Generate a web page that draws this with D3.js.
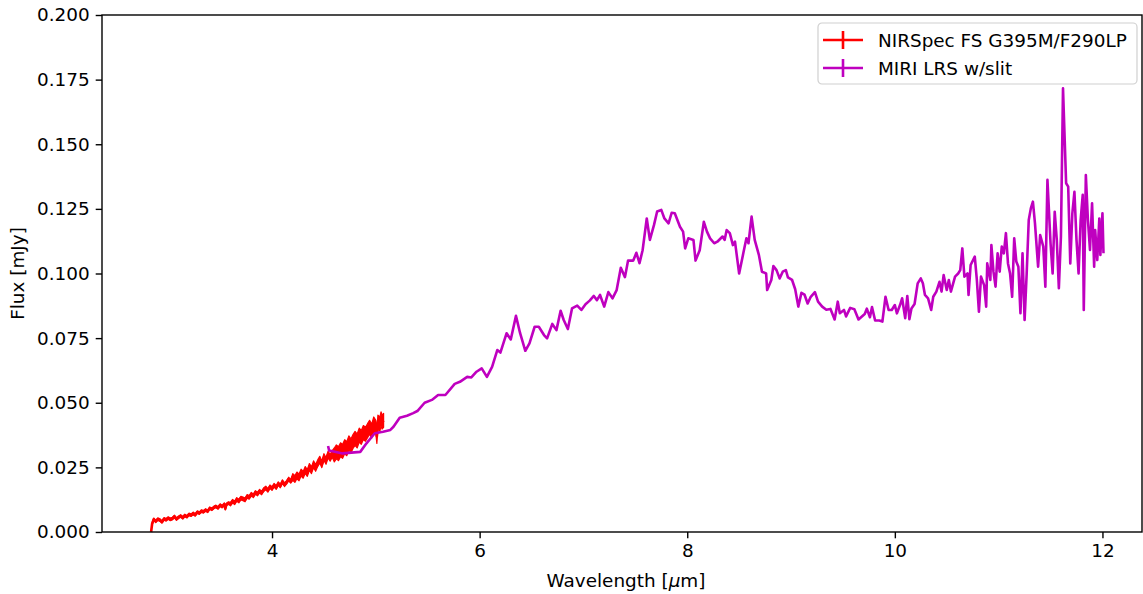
<!DOCTYPE html>
<html>
<head>
<meta charset="utf-8">
<script src="https://cdn.jsdelivr.net/npm/d3@7"></script>
<style>
  body { margin: 0; background: #fff; }
  svg text { font-family: "DejaVu Sans", sans-serif; fill: #000; }
</style>
</head>
<body>
<div id="chart"></div>
<script>
(function() {
// NIRSpec FS G395M/F290LP: [wavelength um, flux mJy]
var nirspec = [
  [2.835, 0.0000], [2.845, 0.0032], [2.86, 0.0049], [2.88, 0.0041], [2.90, 0.0050],
  [2.92, 0.0046], [2.94, 0.0039], [2.96, 0.0051], [2.98, 0.0047], [3.00, 0.0054],
  [3.02, 0.0049], [3.04, 0.0052], [3.06, 0.0060], [3.08, 0.0050], [3.10, 0.0057],
  [3.12, 0.0062], [3.14, 0.0055], [3.16, 0.0064], [3.18, 0.0059], [3.20, 0.0068],
  [3.22, 0.0065], [3.24, 0.0072], [3.26, 0.0066], [3.28, 0.0077], [3.30, 0.0073],
  [3.32, 0.0081], [3.34, 0.0078], [3.36, 0.0085], [3.38, 0.0080], [3.40, 0.0092],
  [3.42, 0.0088], [3.44, 0.0095], [3.46, 0.0099], [3.48, 0.0093], [3.50, 0.0104],
  [3.52, 0.0098], [3.54, 0.0108], [3.55, 0.0090], [3.56, 0.0106], [3.58, 0.0112],
  [3.60, 0.0108], [3.62, 0.0119], [3.64, 0.0113], [3.66, 0.0126], [3.68, 0.0120],
  [3.70, 0.0131], [3.72, 0.0128], [3.74, 0.0124], [3.76, 0.0138], [3.78, 0.0134],
  [3.80, 0.0146], [3.82, 0.0140], [3.84, 0.0153], [3.86, 0.0147], [3.88, 0.0158],
  [3.90, 0.0151], [3.92, 0.0164], [3.94, 0.0170], [3.96, 0.0161], [3.98, 0.0175],
  [4.00, 0.0168], [4.02, 0.0181], [4.04, 0.0172], [4.06, 0.0187], [4.08, 0.0178],
  [4.10, 0.0195], [4.12, 0.0183], [4.14, 0.0192], [4.16, 0.0205], [4.18, 0.0196],
  [4.20, 0.0213], [4.22, 0.0205], [4.24, 0.0219], [4.26, 0.0211], [4.28, 0.0230],
  [4.30, 0.0221], [4.32, 0.0240], [4.34, 0.0228], [4.36, 0.0252], [4.38, 0.0239],
  [4.40, 0.0262], [4.42, 0.0248], [4.44, 0.0266], [4.46, 0.0280], [4.48, 0.0262],
  [4.50, 0.0290], [4.52, 0.0275], [4.54, 0.0300], [4.56, 0.0287], [4.58, 0.0302],
  [4.60, 0.0298], [4.62, 0.0310], [4.64, 0.0303], [4.66, 0.0318], [4.68, 0.0312],
  [4.70, 0.0330], [4.72, 0.0322], [4.74, 0.0345], [4.76, 0.0333], [4.78, 0.0350],
  [4.80, 0.0362], [4.82, 0.0352], [4.84, 0.0375], [4.86, 0.0366], [4.88, 0.0385],
  [4.90, 0.0378], [4.92, 0.0392], [4.94, 0.0405], [4.96, 0.0390], [4.98, 0.0418],
  [5.00, 0.0405], [5.01, 0.0370], [5.02, 0.0425], [5.04, 0.0418], [5.05, 0.0438],
  [5.06, 0.0425], [5.075, 0.0432]
];

// NIRSpec flux uncertainty by wavelength range: [from um, sigma mJy]
var nirspecErr = [[2.80, 0.0005], [3.60, 0.0007], [4.20, 0.0013], [4.60, 0.0027]];

// MIRI LRS w/slit: [wavelength um, flux mJy]
var miri = [
  [4.54, 0.0333], [4.55, 0.0315], [4.68, 0.0304], [4.85, 0.0310], [4.91, 0.0343],
  [4.99, 0.0382], [5.07, 0.0388], [5.14, 0.0395], [5.17, 0.0407], [5.23, 0.0442],
  [5.30, 0.0450], [5.36, 0.0460], [5.40, 0.0468], [5.47, 0.0500], [5.54, 0.0511],
  [5.60, 0.0530], [5.67, 0.0530], [5.76, 0.0573], [5.81, 0.0581], [5.88, 0.0600],
  [5.92, 0.0598], [5.97, 0.0620], [6.02, 0.0633], [6.07, 0.0600], [6.12, 0.0639],
  [6.17, 0.0704], [6.20, 0.0694], [6.26, 0.0769], [6.30, 0.0745], [6.35, 0.0836],
  [6.39, 0.0769], [6.44, 0.0701], [6.48, 0.0730], [6.53, 0.0794], [6.57, 0.0794],
  [6.62, 0.0762], [6.65, 0.0749], [6.70, 0.0805], [6.74, 0.0781], [6.78, 0.0856],
  [6.81, 0.0820], [6.85, 0.0785], [6.89, 0.0865], [6.94, 0.0876], [6.98, 0.0859],
  [7.02, 0.0881], [7.06, 0.0895], [7.10, 0.0913], [7.13, 0.0897], [7.16, 0.0917],
  [7.20, 0.0872], [7.24, 0.0928], [7.28, 0.0904], [7.32, 0.0936], [7.36, 0.1022],
  [7.40, 0.0986], [7.43, 0.1050], [7.48, 0.1050], [7.51, 0.1080], [7.54, 0.1040],
  [7.57, 0.1090], [7.61, 0.1213], [7.64, 0.1130], [7.68, 0.1188], [7.71, 0.1240],
  [7.75, 0.1246], [7.78, 0.1213], [7.82, 0.1194], [7.85, 0.1235], [7.88, 0.1233],
  [7.93, 0.1181], [7.96, 0.1162], [7.98, 0.1097], [8.01, 0.1136], [8.06, 0.1130],
  [8.08, 0.1050], [8.12, 0.1090], [8.16, 0.1200], [8.19, 0.1162], [8.22, 0.1136],
  [8.26, 0.1117], [8.29, 0.1123], [8.34, 0.1143], [8.36, 0.1130], [8.38, 0.1168],
  [8.41, 0.1156], [8.44, 0.1110], [8.46, 0.1123], [8.50, 0.1000], [8.54, 0.1078],
  [8.57, 0.1136], [8.59, 0.1117], [8.62, 0.1220], [8.65, 0.1130], [8.69, 0.1072],
  [8.72, 0.1007], [8.76, 0.1000], [8.77, 0.0936], [8.81, 0.0975], [8.83, 0.1029],
  [8.86, 0.1013], [8.89, 0.0981], [8.92, 0.1007], [8.95, 0.1013], [8.97, 0.0985],
  [9.01, 0.0975], [9.04, 0.0939], [9.07, 0.0872], [9.10, 0.0925], [9.13, 0.0918],
  [9.16, 0.0884], [9.19, 0.0910], [9.23, 0.0928], [9.26, 0.0891], [9.30, 0.0872],
  [9.34, 0.0860], [9.38, 0.0863], [9.42, 0.0822], [9.45, 0.0891], [9.47, 0.0846],
  [9.51, 0.0859], [9.53, 0.0834], [9.57, 0.0867], [9.61, 0.0862], [9.65, 0.0822],
  [9.71, 0.0843], [9.73, 0.0864], [9.76, 0.0831], [9.78, 0.0870], [9.81, 0.0818],
  [9.85, 0.0818], [9.88, 0.0814], [9.91, 0.0910], [9.94, 0.0859], [9.97, 0.0859],
  [10.00, 0.0878], [10.02, 0.0846], [10.05, 0.0878], [10.07, 0.0904], [10.10, 0.0827],
  [10.12, 0.0913], [10.14, 0.0823], [10.16, 0.0865], [10.19, 0.0882], [10.22, 0.0962],
  [10.25, 0.0981], [10.27, 0.0962], [10.29, 0.0917], [10.32, 0.0904], [10.35, 0.0859],
  [10.37, 0.0910], [10.40, 0.0930], [10.43, 0.0968], [10.45, 0.0930], [10.47, 0.0994],
  [10.50, 0.0936], [10.52, 0.0975], [10.54, 0.0930], [10.58, 0.0988], [10.61, 0.1000],
  [10.63, 0.1013], [10.65, 0.1097], [10.67, 0.0988], [10.70, 0.1000], [10.71, 0.0917],
  [10.73, 0.1033], [10.77, 0.1065], [10.79, 0.0975], [10.81, 0.0852], [10.83, 0.0988],
  [10.86, 0.0955], [10.88, 0.0872], [10.89, 0.1039], [10.92, 0.0975], [10.93, 0.1110],
  [10.95, 0.1007], [10.97, 0.0949], [10.99, 0.1078], [11.01, 0.1007], [11.03, 0.1104],
  [11.05, 0.1078], [11.07, 0.1156], [11.09, 0.1039], [11.11, 0.1000], [11.13, 0.0910],
  [11.15, 0.1136], [11.17, 0.1046], [11.19, 0.1026], [11.21, 0.0846], [11.23, 0.1078],
  [11.25, 0.0820], [11.27, 0.1000], [11.29, 0.1207], [11.31, 0.1252], [11.33, 0.1278],
  [11.35, 0.1194], [11.38, 0.1026], [11.40, 0.1149], [11.43, 0.1104], [11.45, 0.0949],
  [11.47, 0.1362], [11.50, 0.1117], [11.52, 0.1000], [11.54, 0.1239], [11.56, 0.1130],
  [11.58, 0.0943], [11.60, 0.1143], [11.62, 0.1716], [11.65, 0.1349], [11.67, 0.1336],
  [11.69, 0.1039], [11.71, 0.1233], [11.73, 0.1316], [11.75, 0.1130], [11.77, 0.1000],
  [11.79, 0.1207], [11.81, 0.1304], [11.82, 0.0859], [11.84, 0.1381], [11.86, 0.1207],
  [11.88, 0.1091], [11.90, 0.1272], [11.92, 0.1026], [11.93, 0.1168], [11.95, 0.1052],
  [11.97, 0.1213], [11.98, 0.1072], [12.00, 0.1233], [12.01, 0.1078]
];

var seriesNames  = ["NIRSpec FS G395M/F290LP", "MIRI LRS w/slit"];
var seriesColors = ["#ff0000", "#bf00bf"];
var xTicks = [4, 6, 8, 10, 12];
var yTicks = [0, 0.025, 0.05, 0.075, 0.1, 0.125, 0.15, 0.175, 0.2];


/**
 * Set up the SVG and scales.
 */
var width = 1143, height = 594;
var margin = {top: 15, bottom: 62, left: 102, right: 1};
var fontSize = 18.4;

var svg = d3.select("#chart").append("svg")
            .attr("width", width)
            .attr("height", height);

var xScale = d3.scaleLinear()
               .domain([2.362, 12.381])
               .range([margin.left, width - margin.right]);
var yScale = d3.scaleLinear()
               .domain([0, 0.2])
               .range([height - margin.bottom, margin.top]);

var xAxis = d3.axisBottom(xScale)
              .tickValues(xTicks)
              .tickFormat(d3.format("d"))
              .tickSize(6.3)
              .tickPadding(6);
var yAxis = d3.axisLeft(yScale)
              .tickValues(yTicks)
              .tickFormat(d3.format(".3f"))
              .tickSize(6.3)
              .tickPadding(6);

var styleAxis = function(g) {
    g.select(".domain").remove();
    g.selectAll(".tick line").attr("stroke", "#000").attr("stroke-width", 1.4);
    g.selectAll(".tick text").attr("font-size", fontSize)
                             .attr("font-family", "DejaVu Sans, sans-serif")
                             .attr("fill", "#000");
};

svg.append("g")
   .attr("transform", "translate(0," + yScale(0) + ")")
   .call(xAxis)
   .call(styleAxis);

svg.append("g")
   .attr("transform", "translate(" + xScale.range()[0] + ",0)")
   .call(yAxis)
   .call(styleAxis);


/**
 * Return the uncertainty that applies at a wavelength.
 */
var errAt = function(w) {
    var s = nirspecErr[0][1];
    nirspecErr.forEach(function(e) { if (w >= e[0]) s = e[1]; });
    return s;
};


/**
 * Data: NIRSpec error band + line first so MIRI is drawn on top.
 */
var line = d3.line()
             .x(function(d) { return xScale(d[0]); })
             .y(function(d) { return yScale(d[1]); });

var errBand = d3.area()
                .x(function(d) { return xScale(d[0]); })
                .y0(function(d) { return yScale(d[1] - errAt(d[0])); })
                .y1(function(d) { return yScale(d[1] + errAt(d[0])); });

svg.append("path")
   .datum(nirspec.slice(1))
   .attr("d", errBand)
   .attr("fill", seriesColors[0])
   .attr("stroke", seriesColors[0])
   .attr("stroke-width", 1.2)
   .attr("stroke-linejoin", "round");

[nirspec, miri].forEach(function(data, i) {
    svg.append("path")
       .datum(data)
       .attr("d", line)
       .attr("fill", "none")
       .attr("stroke", seriesColors[i])
       .attr("stroke-width", 2.6)
       .attr("stroke-linejoin", "round");
});


// frame
svg.append("rect")
   .attr("x", xScale.range()[0])
   .attr("y", yScale.range()[1])
   .attr("width", xScale.range()[1] - xScale.range()[0])
   .attr("height", yScale.range()[0] - yScale.range()[1])
   .attr("fill", "none")
   .attr("stroke", "#000")
   .attr("stroke-width", 1.4);


/**
 * Axis labels.
 */
var xLabel = svg.append("text")
                .attr("x", 626)
                .attr("y", 587)
                .attr("text-anchor", "middle")
                .attr("font-size", fontSize);
xLabel.append("tspan").text("Wavelength [");
xLabel.append("tspan").attr("font-style", "italic").text("\u03bc");
xLabel.append("tspan").text("m]");

svg.append("text")
   .attr("transform", "translate(24," + (yScale.range()[0] + yScale.range()[1]) / 2 + ") rotate(-90)")
   .attr("text-anchor", "middle")
   .attr("font-size", fontSize)
   .text("Flux [mJy]");


/**
 * Legend, upper right.
 */
var legend = svg.append("g").attr("transform", "translate(818,23)");

legend.append("rect")
      .attr("width", 319)
      .attr("height", 61)
      .attr("rx", 4)
      .attr("fill", "#fff")
      .attr("fill-opacity", 0.8)
      .attr("stroke", "#d0d0d0")
      .attr("stroke-width", 1.2);

seriesNames.forEach(function(name, i) {
    var cy = 17 + i * 28;
    var row = legend.append("g").attr("transform", "translate(0," + cy + ")");
    row.append("line")
       .attr("x1", 5).attr("x2", 45)
       .attr("y1", 0).attr("y2", 0)
       .attr("stroke", seriesColors[i])
       .attr("stroke-width", 2.6);
    row.append("line")
       .attr("x1", 25).attr("x2", 25)
       .attr("y1", -9).attr("y2", 9)
       .attr("stroke", seriesColors[i])
       .attr("stroke-width", 2.6);
    row.append("text")
       .attr("x", 60)
       .attr("y", 6.5)
       .attr("font-size", fontSize)
       .text(name);
});
})();
</script>
</body>
</html>
